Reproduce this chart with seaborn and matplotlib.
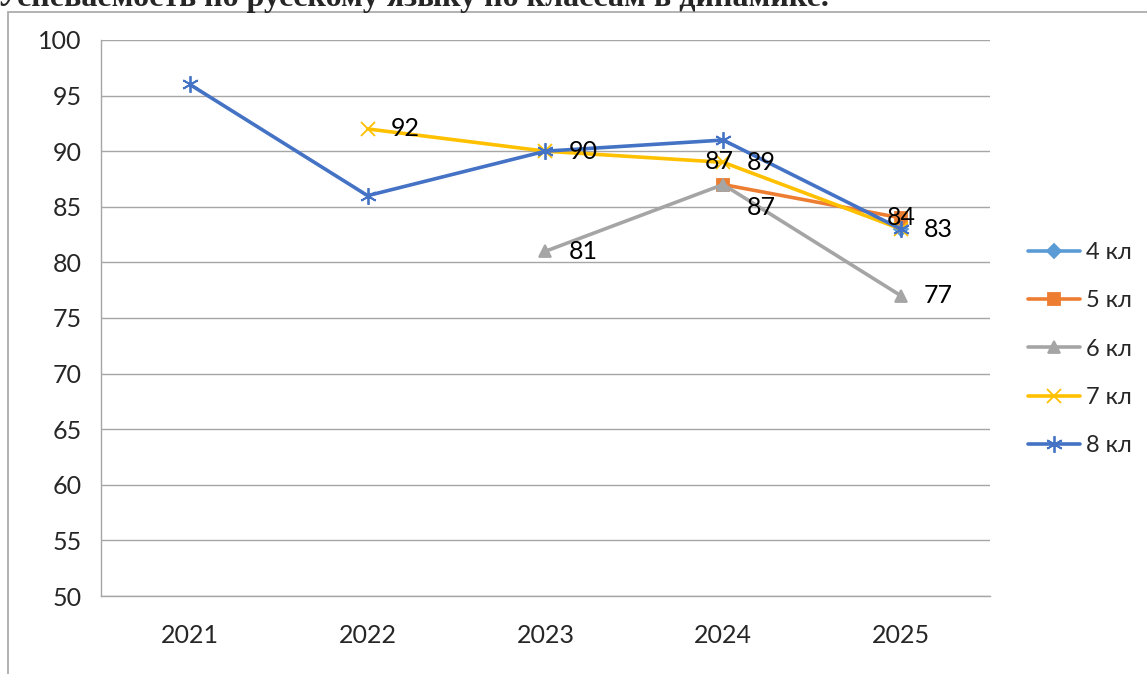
import pandas as pd
import seaborn as sns
import matplotlib.pyplot as plt
from matplotlib.patches import Rectangle

years = ['2021', '2022', '2023', '2024', '2025']
classes = ['4 кл', '5 кл', '6 кл', '7 кл', '8 кл']

# values per class (None = no data that year)
kl4 = [None, None, None, None, 83]
kl5 = [None, None, None, 87, 84]
kl6 = [None, None, 81, 87, 77]
kl7 = [None, 92, 90, 89, 83]
kl8 = [96, 86, 90, 91, 83]

colors = {'4 кл': '#5B9BD5', '5 кл': '#ED7D31', '6 кл': '#A5A5A5',
          '7 кл': '#FFC000', '8 кл': '#4472C4'}
markers = {'4 кл': 'D', '5 кл': 's', '6 кл': '^', '7 кл': 'x', '8 кл': (6, 2, 0)}
msizes = {'4 кл': 7, '5 кл': 9, '6 кл': 9, '7 кл': 10, '8 кл': 12}

rows = []
for name, vals in zip(classes, [kl4, kl5, kl6, kl7, kl8]):
    for i, v in enumerate(vals):
        if v is not None:
            rows.append({'pos': i, 'value': v, 'cls': name})
df = pd.DataFrame(rows)

sns.set_style('white')
plt.rcParams['font.family'] = ['Lato', 'DejaVu Sans']

fig = plt.figure(figsize=(11.47, 6.74), dpi=100)
ax = fig.add_axes([0.088, 0.1157, 0.775, 0.825])

# outer chart frame
fig.patches.append(Rectangle((0.007, -0.05), 1.1, 1.032, transform=fig.transFigure,
                             fill=False, edgecolor='#A6A6A6', linewidth=1.2))

for name in classes:
    sub = df[df['cls'] == name]
    sns.lineplot(data=sub, x='pos', y='value', ax=ax, color=colors[name],
                 marker=markers[name], markersize=msizes[name],
                 markeredgecolor=colors[name], markeredgewidth=1.3,
                 linewidth=2.6, label=name)

# data labels
def lab(x, y, text, ha='left', va='center', dx=0.13, dy=0.0):
    ax.text(x + dx, y + dy, text, fontsize=18, ha=ha, va=va, color='black')

lab(1, kl7[1], '92')
lab(2, kl7[2], '90')
lab(2, kl6[2], '81')
lab(3, kl5[3], '87', ha='center', dx=-0.02, dy=2.1)
lab(3, kl7[3], '89')
lab(3, kl6[3], '87', dy=-2.1)
lab(4, kl5[4], '84', ha='center', dx=0)
lab(4, kl7[4], '83')
lab(4, kl6[4], '77')

ax.set_xlim(-0.5, 4.5)
ax.set_ylim(50, 100)
ax.set_yticks(range(50, 101, 5))
ax.set_xticks([0, 1, 2, 3, 4])
ax.set_xticklabels(years)
ax.set_xticks([-0.5, 0.5, 1.5, 2.5, 3.5, 4.5], minor=True)
ax.tick_params(axis='x', which='major', length=0, labelsize=18, pad=20)
ax.tick_params(axis='x', which='minor', length=8, color='#A6A6A6', width=1)
ax.tick_params(axis='y', length=8, color='#A6A6A6', width=1, labelsize=18, pad=6)
ax.yaxis.grid(True, color='#A6A6A6', linewidth=1)
ax.xaxis.grid(False)
for s in ['top', 'right']:
    ax.spines[s].set_visible(False)
for s in ['left', 'bottom']:
    ax.spines[s].set_color('#A6A6A6')
    ax.spines[s].set_linewidth(1)
ax.set_xlabel('')
ax.set_ylabel('')

leg = ax.legend(loc='center left', bbox_to_anchor=(1.043, 0.444), frameon=False,
                fontsize=17, labelspacing=1.15, handlelength=2.2, handletextpad=0.25,
                borderaxespad=0, borderpad=0)

fig.text(-0.003, 1 - 6 / 674, 'Успеваемость по русскому языку по классам в динамике.',
         family=['Liberation Serif'], fontweight='bold', fontsize=23, va='baseline', ha='left')

fig.savefig('out.png', dpi=100)
